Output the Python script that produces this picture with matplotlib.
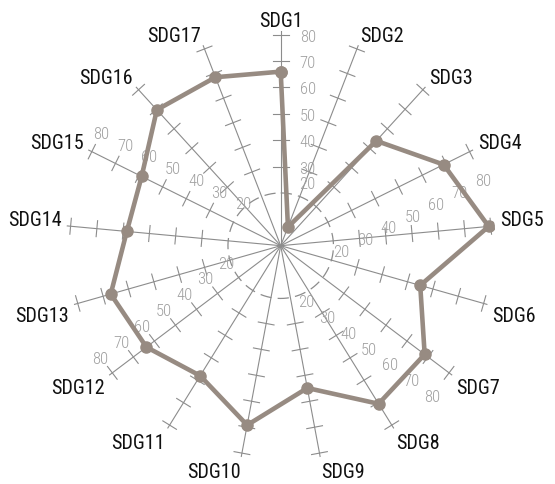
import numpy as np
import matplotlib.pyplot as plt

plt.rcParams['font.family'] = ['Roboto Condensed', 'Archivo Narrow', 'PT Sans Narrow', 'Roboto', 'DejaVu Sans']

#? datos: valor de cada objetivo (0..80)
categories = ["SDG1", "SDG2", "SDG3", "SDG4", "SDG5", "SDG6", "SDG7", "SDG8", "SDG9",
              "SDG10", "SDG11", "SDG12", "SDG13", "SDG14", "SDG15", "SDG16", "SDG17"]
values = [66.0, 7.6, 53.8, 69.0, 79.2, 55.0, 68.4, 70.5, 54.9,
          69.2, 58.0, 63.8, 67.0, 58.6, 58.9, 69.7, 68.5]

tick_values = [30, 40, 50, 60, 70, 80]          #! marcas en cada eje
label_values = [20, 30, 40, 50, 60, 70, 80]     #! textos de la escala
ring_value = 20                                 #! círculo discontinuo
label_axes = [0, 3, 6, 11, 14]                  #! ejes que llevan números
label_offsets_px = [27, 31, 28, 20, 22]

R_MAX = 81.5
PX_PER_UNIT = 2.6375
DPI = 100

LINE_COLOR = '#978b82'
AXIS_COLOR = '#8c8c8c'
TICK_TEXT = '#a0a0a0'

fig = plt.figure(figsize=(5.55, 4.85), dpi=DPI)
cx, cy = 280.7, 485 - 246.7
rad = R_MAX * PX_PER_UNIT
ax = fig.add_axes([(cx - rad) / 555, (cy - rad) / 485, 2 * rad / 555, 2 * rad / 485],
                  projection='polar')
ax.set_theta_zero_location('N')
ax.set_theta_direction(-1)
ax.set_ylim(0, R_MAX)
ax.axis('off')

n = len(categories)
theta = 2 * np.pi * np.arange(n) / n

#? ejes radiales
for t in theta:
    ax.plot([t, t], [0, R_MAX], color=AXIS_COLOR, lw=0.8, zorder=1)

#? marcas perpendiculares
h = 8 / PX_PER_UNIT
for t in theta:
    for v in tick_values:
        d = np.arctan(h / v)
        rr = np.hypot(v, h)
        ax.plot([t - d, t + d], [rr, rr], color=AXIS_COLOR, lw=0.8, zorder=1)

#? círculo de 20
tt = np.linspace(0, 2 * np.pi, 400)
ax.plot(tt, np.full_like(tt, ring_value), color=AXIS_COLOR, lw=0.9,
        dashes=(9, 5), zorder=1)

#? números de la escala
for i, off in zip(label_axes, label_offsets_px):
    t = theta[i]
    dx = off * np.cos(t) * 72 / DPI
    dy = -off * np.sin(t) * 72 / DPI
    for v in label_values:
        extra = 11 * 72 / DPI if (i == 0 and v == 20) else 0  #! el 20 del SDG1 va algo más arriba
        ax.annotate(str(v), xy=(t, v), xytext=(dx, dy + extra), textcoords='offset points',
                    ha='center', va='center_baseline', fontsize=12, color=TICK_TEXT,
                    fontweight='light', annotation_clip=False, zorder=2)

#? serie
vals = np.array(values)
ax.plot(np.append(theta, theta[0]), np.append(vals, vals[0]), color=LINE_COLOR,
        lw=3.3, marker='o', markersize=8, zorder=3, solid_joinstyle='miter')

#? nombres de los ejes
r_lab = 220 / PX_PER_UNIT
for t, name in zip(theta, categories):
    s = np.sin(t)
    c = np.cos(t)
    if abs(s) < 1e-6:
        ha = 'center'
    elif s > 0:
        ha = 'left'
    else:
        ha = 'right'
    va = 'baseline' if c > 0 else 'top'
    ax.annotate(name, xy=(t, r_lab), ha=ha, va=va, fontsize=14.5, color='#111111',
                annotation_clip=False)

fig.savefig('out.png', dpi=DPI)
